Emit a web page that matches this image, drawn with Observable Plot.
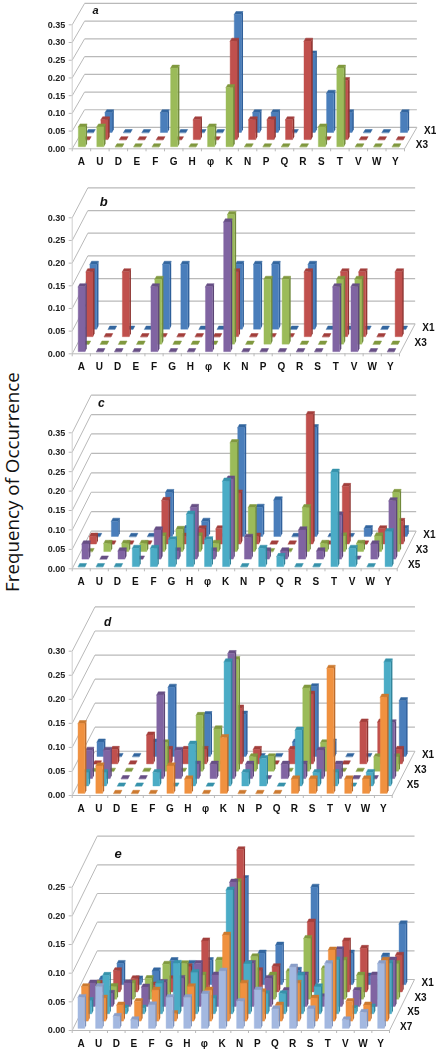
<!DOCTYPE html>
<html><head><meta charset="utf-8">
<script src="https://cdn.jsdelivr.net/npm/d3@7"></script>
<script src="https://cdn.jsdelivr.net/npm/@observablehq/plot@0.6"></script>
<style>
html,body{margin:0;padding:0;background:#fff}
#page{position:relative;width:436px;height:1050px;overflow:hidden}
#page svg{position:absolute;left:0;background:transparent;font-family:"Liberation Sans",Arial,sans-serif;filter:blur(.35px)}
#ylab{position:absolute;left:12px;top:482px;transform:translate(-50%,-50%) rotate(-90deg);white-space:nowrap;font:18.8px/20px "Open Sans",sans-serif;color:#111}
</style></head><body><div id="page"><div id="ylab">Frequency of Occurrence</div></div>
<script>
const cats = ["A","U","D","E","F","G","H","φ","K","N","P","Q","R","S","T","V","W","Y"];
const tickLabels = ["X1","X3","X5","X7"];

// values by category, order as in cats
const aX1 = [0,.056,0,0,.056,0,0,0,.333,.056,.056,0,.222,.111,.056,0,0,.056];
const aX2 = [0,.056,0,0,0,0,.056,0,.278,.056,.056,.056,.278,0,.167,0,0,0];
const aX3 = [.056,.056,0,0,0,.222,0,.056,.167,0,0,0,0,.056,.222,0,0,0];

const bX1 = [.143,0,0,0,.143,.143,0,0,.143,.143,.143,0,.143,0,0,0,0,0];
const bX2 = [.143,0,.143,0,0,0,0,0,.143,0,0,0,.143,0,.143,.143,0,.143];
const bX3 = [0,0,0,0,.143,0,0,0,.286,0,.143,.143,0,0,.143,.143,0,0];
const bX4 = [.143,0,0,0,.143,0,0,.143,.286,0,0,0,0,0,.143,.143,0,0];

const cX1 = [0,.039,0,0,.113,.02,.039,0,.28,.075,.094,0,.28,0,0,.02,0,.02];
const cX2 = [.02,0,0,0,.112,.02,.039,.039,.131,.02,0,0,.333,0,.148,0,.039,.058];
const cX3 = [0,.021,.021,.021,.04,.057,.04,.021,.28,.113,0,0,.113,.021,.04,.021,.04,.152];
const cX4 = [.039,0,.021,0,.075,.021,.133,.021,.206,.056,.021,.021,.075,.021,.113,0,.039,.15];
const cX5 = [0,0,0,.047,.047,.069,.135,.069,.22,0,.047,.026,0,0,.243,.047,0,.09];

const dX1 = [.03,0,0,.03,.144,0,.087,0,.088,0,0,.03,.145,.03,0,0,0,.116];
const dX2 = [0,.03,0,.06,.03,.03,.03,0,.116,.03,0,.03,.145,.03,0,.087,.087,.03];
const dX3 = [0,0,0,0,.059,0,.116,.088,.232,.03,.03,0,.173,.059,0,0,.03,.03];
const dX4 = [.059,.059,0,0,.174,.059,.03,.03,.26,.03,0,.03,.03,.059,.03,0,0,.116];
const dX5 = [.028,.028,0,0,.028,0,.087,0,.258,.028,.057,0,.116,.028,.028,0,.028,.258];
const dX6 = [.145,.057,0,0,0,.057,.03,0,.116,0,0,0,.03,.03,.26,.03,.03,.2];

const eX1 = [.01,.037,.01,.024,.042,.037,.042,.02,.185,.055,.069,.025,.17,.02,.055,.015,.05,.106];
const eX2 = [.015,.037,.023,.012,.023,.044,.089,.026,.248,.037,.044,.038,.122,.026,.089,.076,.02,.064];
const eX3 = [.027,.022,.028,.036,.061,.062,.042,.068,.205,.074,.042,.048,.106,.053,.068,.042,.02,.062];
const eX4 = [.041,.023,.041,.034,.042,.049,.075,.055,.217,.075,.049,.028,.055,.017,.099,.028,.055,.081];
const eX5 = [.023,.067,.01,.01,.053,.088,.072,.027,.216,.087,.035,.035,.067,.047,.094,.009,.012,.088];
const eX6 = [.06,.04,.028,.034,.054,.013,.06,.054,.15,.066,.051,.028,.066,.04,.124,.034,.028,.106];
const eX7 = [.054,.073,.021,.015,.041,.054,.054,.06,.1,.047,.067,.034,.107,.034,.113,.015,.028,.113];

const fronts = ["#4a7ebb","#c0504d","#9bbb59","#8064a2","#4bacc6","#f0913f","#a3b8e0"];
const sides  = ["#2f5f9a","#8e3431","#71893c","#5b4576","#2f8197","#b9692a","#7b8fb8"];
const tops   = ["#33669f","#a33f3c","#80993f","#674f85","#3692ab","#cc7a30","#8a9ec8"];

const panels = [
 {letter:"a",letterAt:[1.26,.39],letterSize:11,top:0,height:180,mt:24.3,y0:148.3,left:71.7,right:404,maxTick:.35,depthX:.67,depthY:.0602,series:[aX1,aX2,aX3]},
 {letter:"b",letterAt:[1.74,.335],letterSize:13,top:180,height:205,mt:37.3,y0:173.3,left:71.7,right:399,maxTick:.30,depthX:.86,depthY:.066,series:[bX1,bX2,bX3,bX4]},
 {letter:"c",letterAt:[1.62,.426],letterSize:12,top:385,height:205,mt:47.3,y0:183.3,left:71.7,right:396.7,maxTick:.35,depthX:1.05,depthY:.097,series:[cX1,cX2,cX3,cX4,cX5]},
 {letter:"d",letterAt:[2,.36],letterSize:12,top:590,height:220,mt:60.7,y0:205,left:71.7,right:391.7,maxTick:.30,depthX:1.28,depthY:.092,series:[dX1,dX2,dX3,dX4,dX5,dX6]},
 {letter:"e",letterAt:[2.6,.308],letterSize:13,top:810,height:240,mt:76.7,y0:220,left:71.7,right:389,maxTick:.25,depthX:1.42,depthY:.089,series:[eX1,eX2,eX3,eX4,eX5,eX6,eX7]}
];

const GRID = "#b9b9b9";
const page = document.getElementById("page");

function barMarks(p){
  const n = p.series.length, dx = p.depthX/n, dy = p.depthY/n;
  const marks = [];
  // back row first
  p.series.forEach((vals, s) => {
    const r = n-1-s;                // r = 0 is the front row
    const bars = vals.map((v,i) => {
      const x0 = i + .31 + (r+.22)*dx, x1 = x0 + .38;
      const b = (r+.22)*dy;
      return {id:i, v, x0, x1, b, sx:.42*dx, sy:.42*dy};
    });
    const sideData = bars.filter(d=>d.v>0).flatMap(d=>[
      {id:d.id, x:d.x1, y1:d.b, y2:d.b+d.v},
      {id:d.id, x:d.x1+d.sx, y1:d.b+d.sy, y2:d.b+d.v+d.sy}
    ]);
    const topData = bars.flatMap(d=>[
      {id:d.id, y:d.b+d.v, x1:d.x0, x2:d.x1},
      {id:d.id, y:d.b+d.v+d.sy, x1:d.x0+d.sx, x2:d.x1+d.sx}
    ]);
    const frontData = bars.filter(d=>d.v>0);
    marks.push(
      Plot.areaY(sideData,{x:"x",y1:"y1",y2:"y2",z:"id",fill:sides[s]}),
      Plot.areaX(topData,{y:"y",x1:"x1",x2:"x2",z:"id",fill:tops[s],stroke:tops[s],strokeWidth:.5,strokeLinejoin:"round"}),
      Plot.rect(frontData,{x1:"x0",x2:"x1",y1:"b",y2:d=>d.b+d.v,fill:fronts[s],stroke:fronts[s],strokeWidth:.4,strokeLinejoin:"round"})
    );
  });
  return marks;
}

panels.forEach(p => {
  const n = p.series.length;
  const ticks = d3.range(0, Math.round(p.maxTick/.05)+1).map(k=>k*.05);
  const xb = d3.range(0,19);
  const labelRows = d3.range(0,Math.ceil(n/2)).map(k=>({name:tickLabels[k], r:n-1-2*k}));
  const chart = Plot.plot({
    width:436, height:p.height,
    marginLeft:p.left, marginRight:436-p.right, marginTop:p.mt, marginBottom:p.height-p.y0,
    x:{domain:[0,18],label:null},
    y:{domain:[0,p.maxTick],label:null},
    style:{overflow:"visible",background:"transparent"},
    marks:[
      // walls and floor
      Plot.link(ticks,{x1:p.depthX,x2:18+p.depthX,y1:t=>t+p.depthY,y2:t=>t+p.depthY,stroke:GRID,strokeWidth:1.2}),
      Plot.link(ticks,{x1:0,x2:p.depthX,y1:t=>t,y2:t=>t+p.depthY,stroke:GRID,strokeWidth:1}),
      Plot.link([0],{x1:0,x2:18,y1:0,y2:0,stroke:GRID,strokeWidth:1}),
      Plot.link([0],{x1:0,x2:0,y1:0,y2:p.maxTick,stroke:"#cfcfcf",strokeWidth:1}),
      Plot.link([0],{x1:18,x2:18+p.depthX,y1:0,y2:p.depthY,stroke:GRID,strokeWidth:1}),
      Plot.axisY({ticks,tickFormat:d3.format(".2f"),tickSize:3,tickPadding:4,fontSize:9,fontWeight:"bold",stroke:GRID,color:"#222",label:null}),
      Plot.axisX({ticks:xb,tickFormat:()=>"",tickSize:3,stroke:GRID,label:null}),
      Plot.axisX({ticks:cats.map((c,i)=>i+.5),tickFormat:v=>cats[Math.floor(v)],tickSize:0,tickPadding:9,fontSize:10,fontWeight:"bold",fill:"#111",label:null}),
      ...barMarks(p),
      Plot.text(labelRows,{x:d=>18+(d.r+.5)*p.depthX/n+.5,y:d=>(d.r+.5)*p.depthY/n,text:"name",textAnchor:"start",fontSize:10,fontWeight:"bold",fill:"#111"}),
      Plot.text([p.letter],{x:p.letterAt[0],y:p.letterAt[1],text:d=>d,fontSize:p.letterSize,fontWeight:"bold",fontStyle:"italic",fill:"#111"})
    ]
  });
  chart.style.top = p.top+"px";
  page.appendChild(chart);
});
</script></body></html>
